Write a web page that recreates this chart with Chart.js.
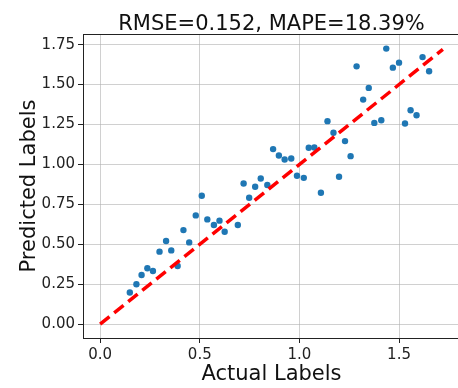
<!DOCTYPE html>
<html>
<head>
<meta charset="utf-8">
<script src="https://cdn.jsdelivr.net/npm/chart.js@4/dist/chart.umd.min.js"></script>
<style>
  html, body { margin: 0; padding: 0; background: #fff; overflow: hidden; }
  #wrap { width: 464px; height: 388px; }
</style>
</head>
<body>
<div id="wrap"><canvas id="scatterChart" width="464" height="388"></canvas></div>
<script>
const actualLabels = [0.149, 0.182, 0.208, 0.237, 0.265, 0.298, 0.331, 0.357, 0.389, 0.418,
  0.447, 0.480, 0.510, 0.538, 0.571, 0.599, 0.625, 0.691, 0.720, 0.748,
  0.778, 0.806, 0.839, 0.868, 0.897, 0.926, 0.959, 0.988, 1.022, 1.047,
  1.075, 1.108, 1.141, 1.171, 1.199, 1.229, 1.257, 1.287, 1.320, 1.348,
  1.376, 1.411, 1.436, 1.469, 1.500, 1.530, 1.558, 1.588, 1.618, 1.651];
const predictedLabels = [0.198, 0.250, 0.308, 0.350, 0.333, 0.454, 0.521, 0.462, 0.364, 0.589,
  0.512, 0.681, 0.804, 0.656, 0.621, 0.648, 0.579, 0.621, 0.881, 0.791,
  0.860, 0.912, 0.871, 1.096, 1.056, 1.031, 1.037, 0.929, 0.916, 1.104,
  1.106, 0.823, 1.271, 1.198, 0.923, 1.146, 1.052, 1.614, 1.406, 1.479,
  1.260, 1.277, 1.725, 1.606, 1.637, 1.256, 1.339, 1.308, 1.672, 1.583];
const idealLine = [0, 1.72];
const xTickValues = [0, 0.5, 1.0, 1.5];
const yTickValues = [0, 0.25, 0.5, 0.75, 1.0, 1.25, 1.5, 1.75];
const titleText = "RMSE=0.152, MAPE=18.39%";

const ctx = document.getElementById("scatterChart").getContext("2d");
const FONT = "'DejaVu Sans', sans-serif";

/* top spine + title centred over the axes */
const frame = {
  id: "frame",
  afterDraw(chart) {
    const { ctx, chartArea: a } = chart;
    ctx.save();
    ctx.strokeStyle = "#222";
    ctx.lineWidth = 1;
    ctx.beginPath();
    ctx.moveTo(a.left, a.top + 0.5);
    ctx.lineTo(a.right, a.top + 0.5);
    ctx.stroke();
    ctx.fillStyle = "#111";
    ctx.font = "21px " + FONT;
    ctx.textAlign = "center";
    ctx.textBaseline = "alphabetic";
    ctx.fillText(titleText, (a.left + a.right) / 2, 29.5);
    ctx.restore();
  }
};

new Chart(ctx, {
  type: "scatter",
  data: {
    datasets: [
      {
        label: "ideal",
        data: idealLine.map(v => ({ x: v, y: v })),
        showLine: true,
        borderColor: "#ff0000",
        borderWidth: 3.5,
        borderDash: [12, 6],
        pointRadius: 0,
        fill: false
      },
      {
        label: "points",
        data: actualLabels.map((x, i) => ({ x: x, y: predictedLabels[i] })),
        backgroundColor: "#1f77b4",
        borderWidth: 0,
        pointRadius: 3.2
      }
    ]
  },
  options: {
    responsive: false,
    animation: false,
    layout: { padding: { top: 34, left: 0, right: 0, bottom: 0 } },
    plugins: {
      legend: { display: false },
      tooltip: { enabled: false },
      title: { display: false }
    },
    scales: {
      x: {
        type: "linear",
        min: -0.086,
        max: 1.806,
        afterBuildTicks: s => { s.ticks = xTickValues.map(v => ({ value: v })); },
        afterFit: s => { s.height = 50; },
        ticks: {
          autoSkip: false,
          maxRotation: 0,
          padding: 3,
          color: "#222",
          font: { family: FONT, size: 15 },
          callback: v => Number(v).toFixed(1)
        },
        grid: {
          color: "rgba(176,176,176,0.6)",
          lineWidth: 1,
          tickColor: "#222",
          tickLength: 5
        },
        border: { display: true, color: "#222", width: 1 },
        title: {
          display: true,
          text: "Actual Labels",
          color: "#111",
          font: { family: FONT, size: 21 },
          padding: { top: 0, bottom: 1 }
        }
      },
      y: {
        type: "linear",
        min: -0.0865,
        max: 1.8165,
        afterBuildTicks: s => { s.ticks = yTickValues.map(v => ({ value: v })); },
        afterFit: s => { s.width = 83; },
        ticks: {
          autoSkip: false,
          padding: 3,
          color: "#222",
          font: { family: FONT, size: 15 },
          callback: v => Number(v).toFixed(2)
        },
        grid: {
          color: "rgba(176,176,176,0.6)",
          lineWidth: 1,
          tickColor: "#222",
          tickLength: 5
        },
        border: { display: true, color: "#222", width: 1 },
        title: {
          display: true,
          text: "Predicted Labels",
          color: "#111",
          font: { family: FONT, size: 21 },
          padding: { top: 17, bottom: 0 }
        }
      }
    }
  },
  plugins: [frame]
});
</script>
</body>
</html>
